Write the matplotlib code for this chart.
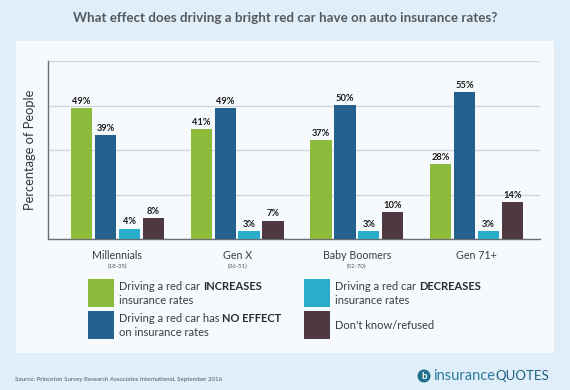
import numpy as np
import matplotlib
matplotlib.use("Agg")
import matplotlib.pyplot as plt
from matplotlib.patches import Rectangle, Circle

plt.rcParams['font.family'] = ['Lato', 'DejaVu Sans']

# datos
groups = ['Millennials', 'Gen X', 'Baby Boomers', 'Gen 71+']
ages = ['(18-35)', '(36-51)', '(52-70)', '']
increases = [49, 41, 37, 28]
no_effect = [39, 49, 50, 55]
decreases = [4, 3, 3, 3]
dont_know = [8, 7, 10, 14]

series = [increases, no_effect, decreases, dont_know]
colors = ['#8dbb3c', '#25618f', '#29adcb', '#4e3942']

W, H = 570, 390
fig = plt.figure(figsize=(W / 100, H / 100), dpi=100)
fig.patch.set_facecolor('#e0eef9')

# capa de fondo para panel, leyenda y textos
bg = fig.add_axes([0, 0, 1, 1])
bg.set_xlim(0, W)
bg.set_ylim(H, 0)
bg.axis('off')
bg.add_patch(Rectangle((16, 41), 538, 312, facecolor='#f7fafd', edgecolor='none'))

bg.text(285, 18, 'What effect does driving a bright red car have on auto insurance rates?',
        ha='center', va='center', fontsize=9.6, fontweight='bold', color='#555a5e')

ax = fig.add_axes([48 / W, 1 - 239.3 / H, 492 / W, 178.3 / H])
ax.set_facecolor('none')

x = np.arange(len(groups))
step = 0.2
width = 0.178
for i, (vals, c) in enumerate(zip(series, colors)):
    pos = x + (i - 1.5) * step
    ax.bar(pos, vals, width=width, color=c, zorder=3)
    for p, v in zip(pos, vals):
        ax.text(p, v + 0.8, f'{v}%', ha='center', va='bottom', fontsize=6.7,
                fontweight='bold', color='#1a1a1a', zorder=4)

ymax = 66.5
ax.set_ylim(0, ymax)
ax.set_xlim(-0.58, 3.53)
ax.set_yticks(np.linspace(0, ymax, 5))
ax.set_yticklabels([])
ax.tick_params(length=0)
ax.set_xticks([])
ax.grid(axis='y', color='#d3d6da', linewidth=1, zorder=0)
for s in ['top', 'right']:
    ax.spines[s].set_visible(False)
for s in ['left', 'bottom']:
    ax.spines[s].set_color('#6b6e72')
    ax.spines[s].set_linewidth(1)
ax.set_ylabel('Percentage of People', fontsize=9.3, color='#33363a', labelpad=5)

# etiquetas de grupos
for xi, g, a in zip(x, groups, ages):
    ax.annotate(g, xy=(xi, 0), xycoords='data', xytext=(0, -11.5),
                textcoords='offset points', ha='center', va='center',
                fontsize=7.7, color='#3a3d40')
    if a:
        ax.annotate(a, xy=(xi, 0), xycoords='data', xytext=(0, -19.5),
                    textcoords='offset points', ha='center', va='center',
                    fontsize=4.4, color='#555')

# leyenda
legend_items = [
    (88, 279, colors[0], [('Driving a red car ', 'INCREASES'), ('insurance rates', '')]),
    (88, 311, colors[1], [('Driving a red car has ', 'NO EFFECT'), ('on insurance rates', '')]),
    (304, 279, colors[2], [('Driving a red car ', 'DECREASES'), ('insurance rates', '')]),
    (304, 311, colors[3], [("Don't know/refused", '')]),
]
for lx, ly, c, lines in legend_items:
    bg.add_patch(Rectangle((lx, ly), 26, 28, facecolor=c, edgecolor='none'))
    if len(lines) == 1:
        ys = [ly + 14.5]
    else:
        ys = [ly + 7.5, ly + 21.5]
    for (plain, bold), yy in zip(lines, ys):
        t = bg.text(lx + 31, yy, plain, ha='left', va='center', fontsize=8,
                    color='#3a3d40')
        if bold:
            bg.annotate(bold, xy=(1, 0.5), xycoords=t, ha='left', va='center',
                        fontsize=8, fontweight='bold', color='#2a2d30')

bg.text(15, 379, 'Source: Princeton Survey Research Associates International, September 2016',
        ha='left', va='center', fontsize=4.4, color='#555')

# logo
bg.add_patch(Circle((424, 376), 6.5, facecolor='#1f6f8d', edgecolor='none'))
bg.text(424, 376.5, 'b', ha='center', va='center', fontsize=7, fontweight='bold', color='white')
lt = bg.text(433, 376, 'insurance', ha='left', va='center', fontsize=10.5,
             color='#2a7c9c')
bg.annotate('QUOTES', xy=(1, 0.5), xycoords=lt, ha='left', va='center',
            fontsize=9.5, color='#1f5f80')

fig.savefig('out.png', dpi=100, facecolor=fig.get_facecolor())
